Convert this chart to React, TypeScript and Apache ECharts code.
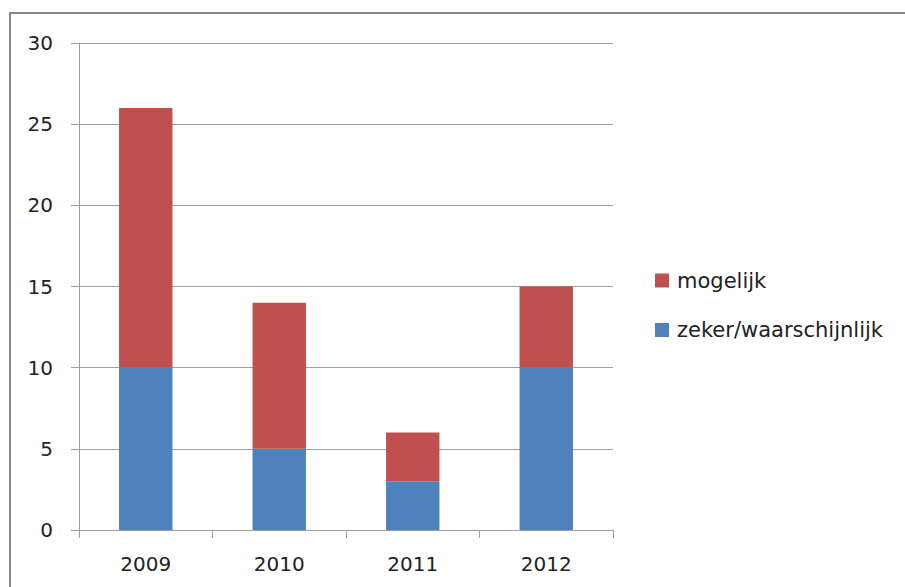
import React, { useEffect, useRef } from "react";
import * as echarts from "echarts";

const categories = ["2009", "2010", "2011", "2012"];
const zekerValues = [10, 5, 3, 10];
const mogelijkValues = [16, 9, 3, 5];
const seriesNames = ["mogelijk", "zeker/waarschijnlijk"];

export default function App() {
  const ref = useRef<HTMLDivElement>(null);
  useEffect(() => {
    if (!ref.current) return;
    const chart = echarts.init(ref.current, null, { renderer: "svg" });
    const font = "'DejaVu Sans', sans-serif";
    chart.setOption({
      animation: false,
      backgroundColor: "#ffffff",
      graphic: [
        {
          type: "rect",
          shape: { x: 10, y: 13, width: 1200, height: 1000 },
          style: { fill: "none", stroke: "#868686", lineWidth: 2 },
          silent: true,
        },
      ],
      grid: { left: 79, right: 292, top: 43, bottom: 57 },
      legend: {
        orient: "vertical",
        left: 650,
        top: 265,
        itemWidth: 14,
        itemHeight: 14,
        itemGap: 28.5,
        icon: "rect",
        data: seriesNames,
        textStyle: {
          fontFamily: font,
          fontSize: 21,
          color: "#222",
          padding: [0, 0, 0, 3],
        },
      },
      xAxis: {
        type: "category",
        data: categories,
        axisLine: { lineStyle: { color: "#a0a0a0", width: 1 } },
        axisTick: { show: true, length: 8, lineStyle: { color: "#a0a0a0" } },
        axisLabel: { fontFamily: font, fontSize: 20, color: "#222", margin: 24 },
      },
      yAxis: {
        type: "value",
        min: 0,
        max: 30,
        interval: 5,
        axisLine: { show: true, lineStyle: { color: "#a0a0a0", width: 1 } },
        axisTick: { show: true, length: 8, lineStyle: { color: "#a0a0a0" } },
        splitLine: { lineStyle: { color: "#a0a0a0", width: 1 } },
        axisLabel: { fontFamily: font, fontSize: 20, color: "#222", margin: 26 },
      },
      series: [
        {
          name: "zeker/waarschijnlijk",
          type: "bar",
          stack: "total",
          barWidth: "40%",
          data: zekerValues,
          itemStyle: { color: "#4F81BD" },
        },
        {
          name: "mogelijk",
          type: "bar",
          stack: "total",
          barWidth: "40%",
          data: mogelijkValues,
          itemStyle: { color: "#C0504D" },
        },
      ],
    });
    return () => chart.dispose();
  }, []);
  return (
    <div
      ref={ref}
      style={{ position: "fixed", left: 0, top: 0, width: 905, height: 587 }}
    />
  );
}
